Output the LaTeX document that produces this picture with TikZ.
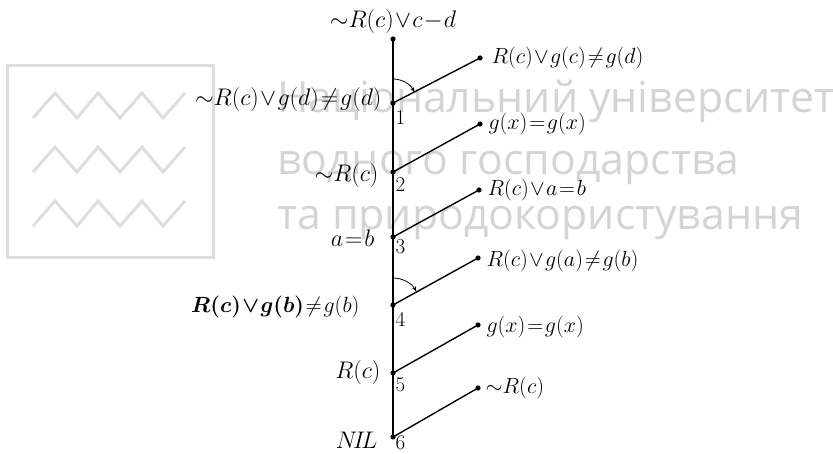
\RequirePackage{fix-cm}
\documentclass[tikz,border=0pt]{standalone}
\usepackage{amsmath,amssymb}
\usepackage{fontspec}
\newfontfamily\wmfont{Open Sans}
\usetikzlibrary{arrows.meta,positioning}
\tikzset{
  trunk/.style={line width=2.6pt},
  branch/.style={line width=1.4pt},
  lclause/.style={font=\fontsize{24}{28}\selectfont},
  rclause/.style={font=\fontsize{22}{26}\selectfont},
  stepno/.style={font=\fontsize{21}{24}\selectfont},
  wmline/.style={black!13,line width=3pt},
  wmtext/.style={black!17,font=\wmfont\fontsize{42.8}{48}\selectfont,anchor=base west,inner sep=0pt},
}
\newcommand{\ndot}{2.6pt}
\newcommand{\nt}{{\sim}}

\begin{document}
\begin{tikzpicture}[x=1pt,y=1pt,>={Stealth[length=5pt,width=4pt]}]
\medmuskip=1mu \thickmuskip=1.5mu
\useasboundingbox (0,0) rectangle (833,-454);
% watermark logo and text
\draw[wmline] (7,-66) rectangle (213,-258);
\foreach \yy in {0,54,108}{
  \draw[wmline,yshift=-\yy pt] (33,-118)--(55,-93)--(77,-118)--(98,-93)--(120,-118)--(142,-93)--(163,-118)--(185,-93);
}
\node[wmtext] (wm1) at (277,-113) {Національний університет};
\node[wmtext] (wm2) at (277,-175) {водного господарства};
\node[wmtext] (wm3) at (277,-230) {та природокористування};
% points of the main line
\coordinate (top) at (393,-39);
\coordinate (n1) at (393,-103);
\coordinate (n2) at (393,-172);
\coordinate (n3) at (393,-237);
\coordinate (n4) at (393,-305);
\coordinate (n5) at (393,-373);
\coordinate (n6) at (393,-437);
% free ends of the side branches
\coordinate (e1) at (480,-58);
\coordinate (e2) at (480,-124);
\coordinate (e3) at (479,-190);
\coordinate (e4) at (478,-258);
\coordinate (e5) at (478,-325);
\coordinate (e6) at (478,-388);
% main line and branches
\draw[trunk] (top) -- (n6);
\foreach \i in {1,...,6}{\draw[branch] (n\i) -- (e\i);}
\foreach \p in {top,n1,n2,n3,n4,n5,n6,e1,e2,e3,e4,e5,e6}{\fill (\p) circle (\ndot);}
% angle marks
\draw[thick,->] (n1) ++(90:24) arc[start angle=90,end angle=27,radius=24];
\draw[thick,->] (n4) ++(90:27) arc[start angle=90,end angle=30,radius=27];
% clauses on the left
\node[lclause,above=2pt of top] (ltop) {$\nt R(c)\vee c-d$};
\node[lclause,left=8pt of n1,yshift=3pt] (l1) {$\nt R(c)\vee g(d)\neq g(d)$};
\node[lclause,left=11pt of n2,yshift=-4pt] (l2) {$\nt R(c)$};
\node[lclause,left=15pt of n3,yshift=-1pt] (l3) {$a=b$};
\node[lclause,font=\fontsize{22}{26}\selectfont,left=30pt of n4,yshift=-2pt] (l4) {$\boldsymbol{R(c)\vee g(b)}\neq g(b)$};
\node[lclause,left=9pt of n5] (l5) {$R(c)$};
\node[lclause,left=12pt of n6,yshift=-3pt] (l6) {$N\!I\!L$};
% step numbers
\foreach \i/\d in {1/4,2/2,3/-1,4/4,5/1,6/-5}{\node[stepno,below right=\d pt and -1pt of n\i] (k\i) {$\i$};}
% clauses on the right
\node[rclause,right=8pt of e1] (r1) {$R(c)\vee g(c)\neq g(d)$};
\node[rclause,right=5pt of e2] (r2) {$g(x)=g(x)$};
\node[rclause,right=5pt of e3] (r3) {$R(c)\vee a=b$};
\node[rclause,right=5pt of e4,yshift=-3pt] (r4) {$R(c)\vee g(a)\neq g(b)$};
\node[rclause,right=5pt of e5,yshift=-2pt] (r5) {$g(x)=g(x)$};
\node[rclause,right=4pt of e6] (r6) {$\nt R(c)$};
\end{tikzpicture}
\end{document}
